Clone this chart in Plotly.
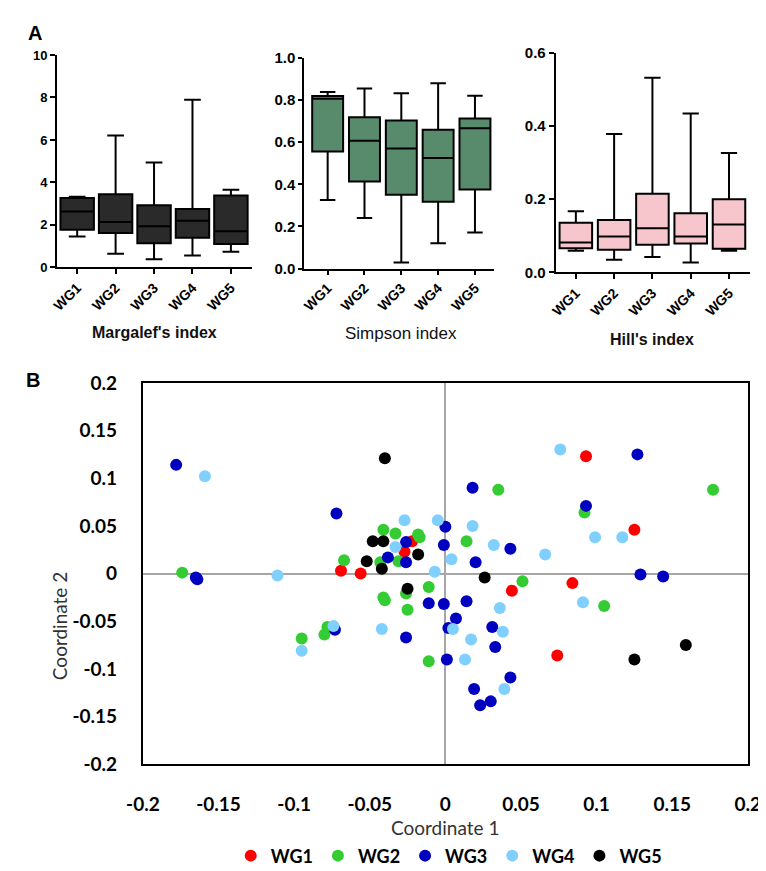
import plotly.graph_objects as go

groups = ["WG1", "WG2", "WG3", "WG4", "WG5"]

# Margalef's index (box statistics)
margalef_min = [1.45, 0.64, 0.38, 0.55, 0.73]
margalef_q1 = [1.77, 1.62, 1.13, 1.39, 1.10]
margalef_median = [2.63, 2.13, 1.93, 2.19, 1.70]
margalef_q3 = [3.27, 3.44, 2.92, 2.75, 3.38]
margalef_max = [3.32, 6.21, 4.94, 7.89, 3.65]

# Simpson index
simpson_min = [0.325, 0.240, 0.029, 0.120, 0.171]
simpson_q1 = [0.556, 0.413, 0.351, 0.317, 0.376]
simpson_median = [0.806, 0.607, 0.570, 0.525, 0.666]
simpson_q3 = [0.820, 0.718, 0.703, 0.659, 0.713]
simpson_max = [0.838, 0.855, 0.832, 0.880, 0.821]

# Hill's index
hill_min = [0.059, 0.035, 0.042, 0.027, 0.059]
hill_q1 = [0.066, 0.062, 0.076, 0.079, 0.065]
hill_median = [0.082, 0.098, 0.121, 0.098, 0.131]
hill_q3 = [0.136, 0.143, 0.215, 0.162, 0.200]
hill_max = [0.167, 0.378, 0.532, 0.434, 0.326]

# Ordination scatter (Coordinate 1, Coordinate 2)
wg1_x = [-0.022, -0.027, -0.069, -0.056, 0.093, 0.125, 0.084, 0.044, 0.074]
wg1_y = [0.034, 0.023, 0.003, 0.000, 0.123, 0.046, -0.010, -0.018, -0.086]

wg2_x = [-0.041, -0.033, -0.018, -0.017, -0.067, -0.043, -0.031, -0.174, 0.035, 0.177,
         0.092, 0.014, 0.051, -0.011, -0.026, -0.041, -0.040, 0.105, -0.025, -0.078,
         -0.080, -0.095, -0.011]
wg2_y = [0.046, 0.042, 0.041, 0.038, 0.014, 0.012, 0.013, 0.001, 0.088, 0.088,
         0.064, 0.034, -0.008, -0.014, -0.021, -0.025, -0.028, -0.034, -0.038, -0.056,
         -0.064, -0.068, -0.092]

wg3_x = [-0.178, -0.072, 0.000, -0.026, -0.001, -0.038, -0.026, -0.165, -0.164, 0.018,
         0.127, 0.093, 0.043, 0.020, 0.129, 0.144, -0.011, -0.001, 0.014, 0.007,
         0.031, 0.002, -0.073, -0.026, 0.033, 0.001, 0.043, 0.019, 0.023, 0.030]
wg3_y = [0.114, 0.063, 0.049, 0.033, 0.030, 0.017, 0.012, -0.004, -0.006, 0.090,
         0.125, 0.071, 0.026, 0.012, -0.001, -0.003, -0.031, -0.032, -0.029, -0.047,
         -0.056, -0.057, -0.059, -0.067, -0.077, -0.090, -0.109, -0.121, -0.138, -0.134]

wg4_x = [-0.159, -0.027, -0.005, -0.033, -0.007, -0.111, 0.076, 0.018, 0.032, 0.099,
         0.117, 0.066, 0.004, 0.091, 0.036, 0.005, 0.038, -0.042, -0.074, -0.095,
         0.017, 0.013, 0.039]
wg4_y = [0.102, 0.056, 0.056, 0.028, 0.002, -0.002, 0.130, 0.050, 0.030, 0.038,
         0.038, 0.020, 0.015, -0.030, -0.036, -0.058, -0.061, -0.058, -0.055, -0.081,
         -0.069, -0.090, -0.121]

wg5_x = [-0.040, -0.048, -0.041, -0.018, -0.052, -0.042, 0.026, -0.025, 0.159, 0.125]
wg5_y = [0.121, 0.034, 0.034, 0.020, 0.013, 0.005, -0.004, -0.016, -0.075, -0.090]

coord_ticks = [-0.2, -0.15, -0.1, -0.05, 0, 0.05, 0.1, 0.15, 0.2]
coord_ticktext = ["-0.2", "-0.15", "-0.1", "-0.05", "0", "0.05", "0.1", "0.15", "0.2"]

W, H = 766, 871


def px_x(p):
    return p / W


def px_y(p):
    return 1 - p / H


fig = go.Figure()


def add_box(mn, q1, med, q3, mx, fill, xa, ya, width):
    fig.add_trace(go.Box(
        x=groups, q1=q1, median=med, q3=q3, lowerfence=mn, upperfence=mx,
        fillcolor=fill, line=dict(color="black", width=2), whiskerwidth=0.5,
        width=width, boxpoints=False, xaxis=xa, yaxis=ya, showlegend=False,
        hoverinfo="skip"))


add_box(margalef_min, margalef_q1, margalef_median, margalef_q3, margalef_max,
        "#2a2a2a", "x", "y", 0.87)
add_box(simpson_min, simpson_q1, simpson_median, simpson_q3, simpson_max,
        "#588a6c", "x2", "y2", 0.84)
add_box(hill_min, hill_q1, hill_median, hill_q3, hill_max,
        "#f7c6cc", "x3", "y3", 0.85)

series = [
    ("WG1", wg1_x, wg1_y, "#ff0000"),
    ("WG2", wg2_x, wg2_y, "#33cc33"),
    ("WG3", wg3_x, wg3_y, "#0000c0"),
    ("WG4", wg4_x, wg4_y, "#80d0ff"),
    ("WG5", wg5_x, wg5_y, "#000000"),
]
for name, xs, ys, col in series:
    fig.add_trace(go.Scatter(
        x=xs, y=ys, mode="markers", name=name,
        marker=dict(color=col, size=12, line=dict(width=0)),
        xaxis="x4", yaxis="y4"))

arial_b = dict(family="Liberation Sans, Arial", color="black", weight="bold")


def box_axes(xdom, ydom, xrange, yrange, dtick, fmt, ysize, xsize, ticklen):
    xa = dict(domain=xdom, range=xrange, type="category", showline=True,
              linecolor="black", linewidth=2, ticks="outside", ticklen=ticklen,
              tickwidth=2, tickcolor="black", tickangle=-45, showgrid=False,
              zeroline=False, tickfont=dict(size=xsize, **arial_b))
    ya = dict(domain=ydom, range=yrange, dtick=dtick, tickformat=fmt,
              showline=True, linecolor="black", linewidth=2, ticks="outside",
              ticklen=ticklen, tickwidth=2, tickcolor="black", showgrid=False,
              zeroline=False, tickfont=dict(size=ysize, **arial_b))
    return xa, ya


xa1, ya1 = box_axes([px_x(33.3), px_x(236.7)], [px_y(254), px_y(36)],
                    [-0.525, 4.56], [0, 10], 2, "d", 13, 14, 5)
xa2, ya2 = box_axes([px_x(290.7), px_x(488.3)], [px_y(255.3), px_y(39)],
                    [-0.634, 4.522], [0, 1.0], 0.2, ".1f", 15, 14, 4)
xa3, ya3 = box_axes([px_x(552.3), px_x(755)], [px_y(259.3), px_y(33.7)],
                    [-0.527, 4.56], [0, 0.6], 0.2, ".1f", 15, 14, 5)
xa1["anchor"] = "y"; ya1["anchor"] = "x"
xa2["anchor"] = "y2"; ya2["anchor"] = "x2"
xa3["anchor"] = "y3"; ya3["anchor"] = "x3"

lato_b = dict(family="Lato", size=19, color="black", weight="bold")
xa4 = dict(domain=[px_x(122.7), px_x(752.3)], anchor="y4", range=[-0.2, 0.2],
           tickvals=coord_ticks, ticktext=coord_ticktext, showline=True, mirror=True,
           linecolor="black", linewidth=2, ticks="", showgrid=False, zeroline=True,
           zerolinecolor="#a6a6a6", zerolinewidth=2, tickfont=lato_b,
           ticklabelstandoff=22)
ya4 = dict(domain=[px_y(764.5), px_y(372.7)], anchor="x4", range=[-0.2, 0.2],
           tickvals=coord_ticks, ticktext=coord_ticktext, showline=True, mirror=True,
           linecolor="black", linewidth=2, ticks="", showgrid=False, zeroline=True,
           zerolinecolor="#a6a6a6", zerolinewidth=2, tickfont=lato_b,
           ticklabelstandoff=20)

annotations = [
    dict(text="<b>A</b>", x=px_x(10), y=px_y(13), font=dict(family="Liberation Sans", size=20, color="black")),
    dict(text="<b>B</b>", x=px_x(8), y=px_y(370), font=dict(family="Liberation Sans", size=20, color="black")),
    dict(text="<b>Margalef's index</b>", x=px_x(135), y=px_y(321),
         font=dict(family="Liberation Sans", size=16, color="#111")),
    dict(text="Simpson index", x=px_x(391.7), y=px_y(322),
         font=dict(family="Liberation Sans", size=17, color="#111")),
    dict(text="<b>Hill's index</b>", x=px_x(653), y=px_y(328),
         font=dict(family="Liberation Sans", size=16, color="#111")),
    dict(text="Coordinate 1", x=px_x(437.5), y=px_y(829),
         font=dict(family="Lato", size=19, color="#333")),
    dict(text="Coordinate 2", x=px_x(36), y=px_y(623), textangle=-90,
         font=dict(family="Lato", size=19, color="#333")),
]
for a in annotations:
    a.update(xref="paper", yref="paper", showarrow=False, xanchor="center", yanchor="middle")

fig.update_layout(
    width=W, height=H, margin=dict(l=0, r=0, t=0, b=0),
    paper_bgcolor="white", plot_bgcolor="white",
    xaxis=xa1, yaxis=ya1, xaxis2=xa2, yaxis2=ya2, xaxis3=xa3, yaxis3=ya3,
    xaxis4=xa4, yaxis4=ya4,
    annotations=annotations,
    showlegend=True,
    legend=dict(orientation="h", x=px_x(441), xanchor="center", y=px_y(858.6),
                yanchor="middle", font=dict(family="Lato", size=18, color="black", weight="bold"),
                itemwidth=30, bgcolor="rgba(0,0,0,0)"),
)

fig.write_html("out.html")
